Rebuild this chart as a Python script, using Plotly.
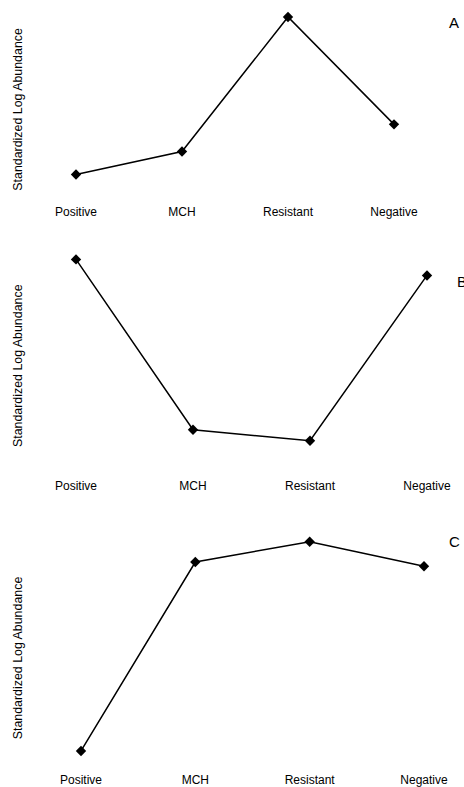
import plotly.graph_objects as go

categories = ["Positive", "MCH", "Resistant", "Negative"]
panel_a = [-0.96, -0.58, 1.65, -0.13]
panel_b = [1.09, -0.93, -1.06, 0.90]
panel_c = [-1.72, 0.51, 0.75, 0.46]
panel_labels = ["A", "B", "C"]
y_title = "Standardized Log Abundance"

W, H = 464, 787
FONT = "Liberation Sans, Arial, sans-serif"

# layout in pixels: (x_left, x_right, y_top, y_bottom), axis ranges
panels = [
    dict(vals=panel_a, px=(44.2, 425.8), py=(3, 204), yr=[-1.441, 1.881],
         title_y=110, letter=(447, 23)),
    dict(vals=panel_b, px=(40.9, 462.1), py=(250, 478), yr=[-1.487, 1.209],
         title_y=367, letter=(455, 282)),
    dict(vals=panel_c, px=(46.7, 458.3), py=(535, 773), yr=[-1.957, 0.845],
         title_y=660, letter=(447, 543)),
]

fig = go.Figure()
x_idx = list(range(len(categories)))
for i, p in enumerate(panels):
    n = "" if i == 0 else str(i + 1)
    fig.add_trace(go.Scatter(
        x=x_idx, y=p["vals"], mode="lines+markers",
        line=dict(color="black", width=1.5),
        marker=dict(symbol="diamond", size=8, color="black"),
        xaxis="x" + n, yaxis="y" + n, cliponaxis=False, showlegend=False,
    ))
    fig.layout["xaxis" + n] = dict(
        domain=[p["px"][0] / W, p["px"][1] / W], range=[-0.3, 3.3],
        anchor="y" + n, tickvals=x_idx, ticktext=categories,
        showgrid=False, zeroline=False, showline=False, ticks="",
        tickfont=dict(family=FONT, size=12, color="black"),
    )
    fig.layout["yaxis" + n] = dict(
        domain=[1 - p["py"][1] / H, 1 - p["py"][0] / H], range=p["yr"],
        anchor="x" + n, showticklabels=False, showgrid=False,
        zeroline=False, showline=False, ticks="",
    )
    fig.add_annotation(
        text=y_title, xref="paper", yref="paper", x=18 / W,
        y=1 - p["title_y"] / H, textangle=-90, showarrow=False,
        xanchor="center", yanchor="middle",
        font=dict(family=FONT, size=12.4, color="black"),
    )
    fig.add_annotation(
        text=panel_labels[i], xref="paper", yref="paper",
        x=p["letter"][0] / W, y=1 - p["letter"][1] / H, showarrow=False,
        xanchor="left", yanchor="middle",
        font=dict(family=FONT, size=15, color="black"),
    )

fig.update_layout(
    width=W, height=H, margin=dict(l=0, r=0, t=0, b=0),
    plot_bgcolor="white", paper_bgcolor="white",
)
fig.write_html(
    "out.html",
    config={"displayModeBar": False},
    post_script="document.body.style.margin='0';document.body.style.overflow='hidden';",
)
